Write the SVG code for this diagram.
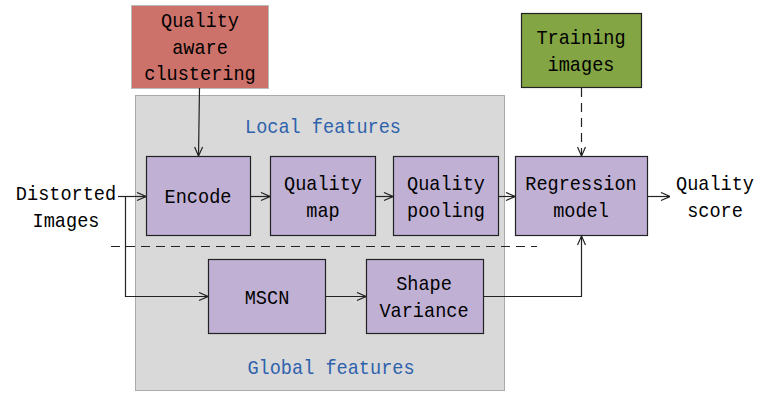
<svg xmlns="http://www.w3.org/2000/svg" width="779" height="393" viewBox="0 0 779 393">
  <style>
    text { font-family: "Liberation Mono", "DejaVu Sans Mono", monospace; font-size: 21px; fill: #000; text-anchor: middle;
           transform-box: fill-box; transform-origin: center; transform: scaleX(0.885); }
    .group-label { fill: #2e62ad; }
    .box { fill: #c0b1d4; stroke: #222; stroke-width: 1.2; }
    .wire { fill: none; stroke: #222; stroke-width: 1.2; }
    .dash { stroke-dasharray: 9 6; }
  </style>
  <defs>
    <marker id="arrow" viewBox="0 0 10 10" refX="10" refY="5" markerWidth="10" markerHeight="10" markerUnits="userSpaceOnUse" orient="auto">
      <polyline points="1,1 10,5 1,9" fill="none" stroke="#222" stroke-width="1.2"/>
    </marker>
  </defs>

  <rect width="779" height="393" fill="#fff"/>

  <!-- feature extraction panel -->
  <g id="feature-panel">
    <rect x="135.5" y="95.5" width="369" height="295" fill="#d9d9d9" stroke="#aaa" stroke-width="1"/>
    <text class="group-label" x="323" y="133">Local features</text>
    <text class="group-label" x="331" y="374">Global features</text>
  </g>

  <g id="clustering">
    <rect x="131.5" y="5.5" width="137" height="83" fill="#cd726a" stroke="#bbb" stroke-width="1"/>
    <text x="200" y="27">Quality</text>
    <text x="200" y="54">aware</text>
    <text x="200" y="80">clustering</text>
  </g>

  <g id="training">
    <rect x="521.5" y="13.5" width="120" height="74" fill="#83a544" stroke="#222" stroke-width="1.2"/>
    <text x="581" y="44">Training</text>
    <text x="581" y="71">images</text>
  </g>

  <g id="input">
    <text x="66" y="200">Distorted</text>
    <text x="66" y="227">Images</text>
  </g>

  <g id="encode">
    <rect class="box" x="146.5" y="156.5" width="104" height="79"/>
    <text x="198" y="203">Encode</text>
  </g>

  <g id="quality-map">
    <rect class="box" x="270.5" y="156.5" width="105" height="79"/>
    <text x="323" y="190">Quality</text>
    <text x="323" y="217">map</text>
  </g>

  <g id="quality-pooling">
    <rect class="box" x="393.5" y="156.5" width="105" height="79"/>
    <text x="446" y="190">Quality</text>
    <text x="446" y="217">pooling</text>
  </g>

  <g id="regression">
    <rect class="box" x="515.5" y="156.5" width="132" height="79"/>
    <text x="581" y="190">Regression</text>
    <text x="581" y="217">model</text>
  </g>

  <g id="mscn">
    <rect class="box" x="208.5" y="259.5" width="117" height="74"/>
    <text x="267" y="304">MSCN</text>
  </g>

  <g id="shape-variance">
    <rect class="box" x="366.5" y="259.5" width="117" height="74"/>
    <text x="424" y="290">Shape</text>
    <text x="424" y="317">Variance</text>
  </g>

  <g id="output">
    <text x="715" y="190">Quality</text>
    <text x="715" y="217">score</text>
  </g>

  <g id="connectors">
    <line class="wire dash" x1="111" y1="246.5" x2="537" y2="246.5"/>
    <line class="wire" x1="199.5" y1="88" x2="198.5" y2="156" marker-end="url(#arrow)"/>
    <line class="wire dash" x1="581.5" y1="88" x2="581.5" y2="156" marker-end="url(#arrow)"/>
    <line class="wire" x1="118" y1="196.5" x2="146" y2="196.5" marker-end="url(#arrow)"/>
    <polyline class="wire" points="125.5,196.5 125.5,296.5 208,296.5" marker-end="url(#arrow)"/>
    <line class="wire" x1="250.5" y1="196.5" x2="270" y2="196.5" marker-end="url(#arrow)"/>
    <line class="wire" x1="375.5" y1="196.5" x2="393" y2="196.5" marker-end="url(#arrow)"/>
    <line class="wire" x1="498.5" y1="196.5" x2="515" y2="196.5" marker-end="url(#arrow)"/>
    <line class="wire" x1="647.5" y1="196.5" x2="670" y2="196.5" marker-end="url(#arrow)"/>
    <line class="wire" x1="325.5" y1="296.5" x2="366" y2="296.5" marker-end="url(#arrow)"/>
    <polyline class="wire" points="483.5,296.5 581.5,296.5 581.5,236" marker-end="url(#arrow)"/>
  </g>
</svg>
